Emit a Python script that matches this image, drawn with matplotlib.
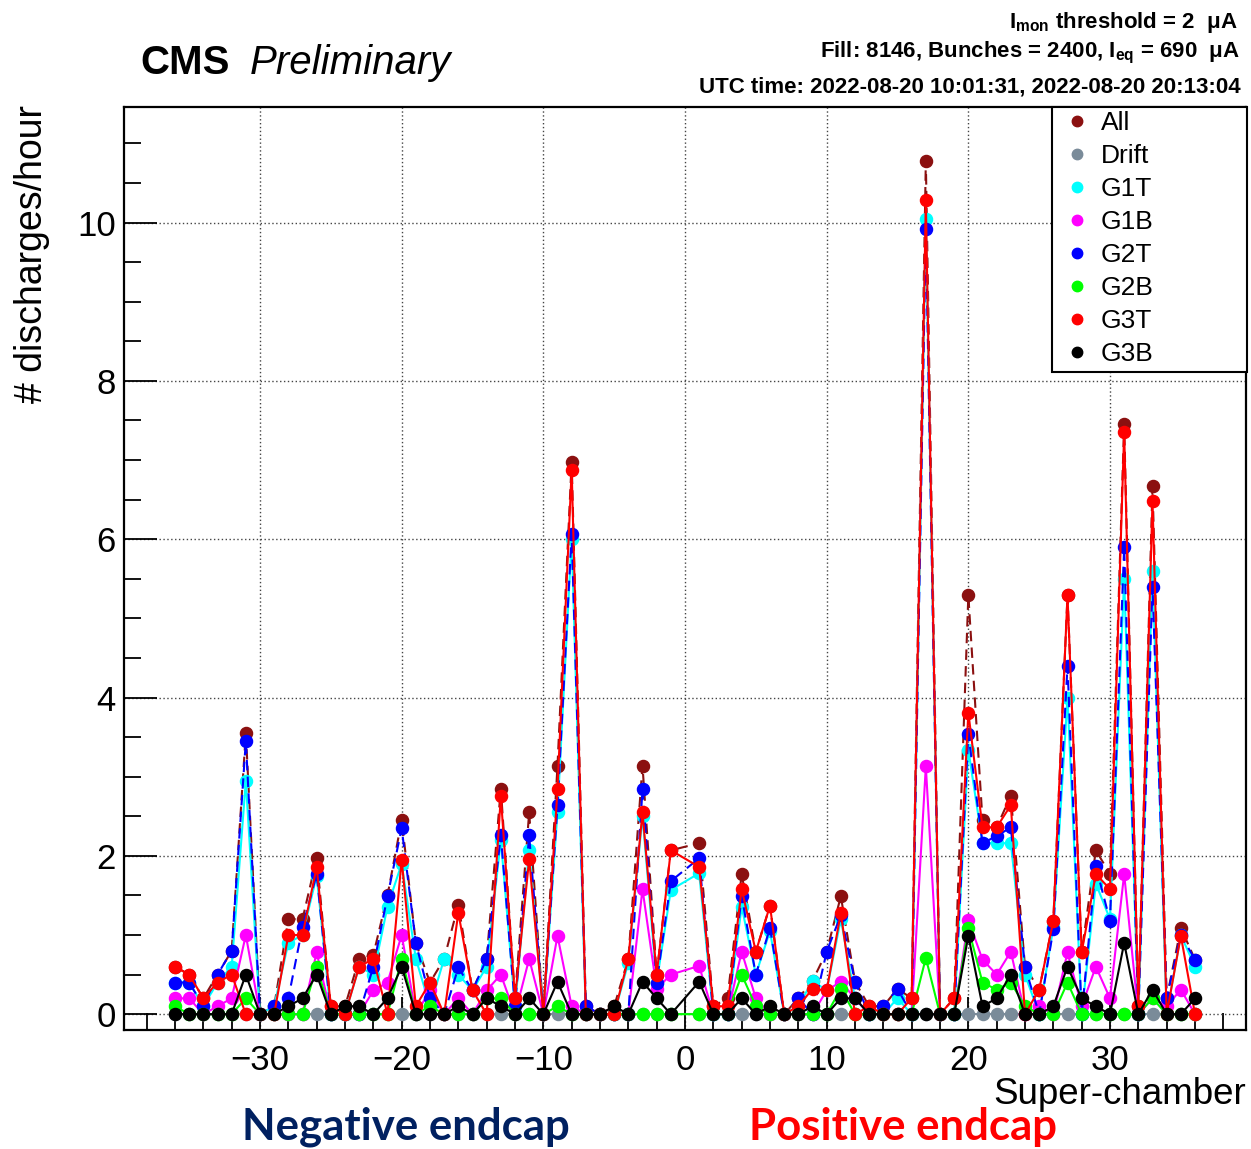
import matplotlib
matplotlib.use("Agg")
import matplotlib.pyplot as plt
from matplotlib.ticker import MultipleLocator
from matplotlib.lines import Line2D
from matplotlib.patches import Rectangle

plt.rcParams['font.family'] = ['Liberation Sans', 'DejaVu Sans']
plt.rcParams['mathtext.fontset'] = 'custom'
plt.rcParams['mathtext.rm'] = 'Liberation Sans:bold'
plt.rcParams['mathtext.it'] = 'Liberation Sans:bold'
plt.rcParams['mathtext.bf'] = 'Liberation Sans:bold'

# super-chamber numbers (no chamber 0)
chambers = list(range(-36, 0)) + list(range(1, 37))

# discharges/hour, negative endcap -36..-1 then positive endcap 1..36
all_rate = [0.6, 0.5, 0.2, 0.5, 0.8, 3.55, 0, 0.1, 1.2, 1.2, 1.97, 0.1, 0.1, 0.7, 0.75, 1.5, 2.45, 0.9,
            0.4, 0.7, 1.38, 0.3, 0.7, 2.85, 0.2, 2.55, 0, 3.14, 6.98, 0.1, 0, 0.1, 0.7, 3.14, 0.5, 2.07,
            2.16, 0.1, 0.2, 1.77, 0.79, 1.37, 0, 0.2, 0.42, 0.79, 1.49, 0.41, 0.1, 0.1, 0.32, 0.2, 10.78, 0,
            0.2, 5.29, 2.45, 2.36, 2.76, 0.6, 0.31, 1.18, 5.29, 0.78, 2.07, 1.77, 7.45, 0.1, 6.67, 0.2, 1.09, 0.69]
drift = [0] * 72
g1t = [0.4, 0.4, 0.1, 0.4, 0.6, 2.95, 0, 0.1, 0.9, 1.0, 1.75, 0, 0, 0.6, 0.5, 1.36, 1.9, 0.7,
       0.1, 0.7, 0.5, 0.3, 0.6, 2.2, 0.1, 2.08, 0, 2.56, 6.0, 0, 0, 0, 0.65, 2.5, 0.4, 1.57,
       1.78, 0, 0, 1.36, 0.5, 1.05, 0, 0.1, 0.42, 0.3, 1.2, 0.2, 0, 0, 0.2, 0, 10.05, 0,
       0, 3.34, 2.16, 2.16, 2.16, 0.5, 0, 1.1, 4.0, 0, 1.65, 1.2, 5.5, 0, 5.6, 0, 1.0, 0.6]
g1b = [0.2, 0.2, 0, 0.1, 0.2, 1.0, 0, 0, 0, 0, 0.78, 0, 0, 0, 0.3, 0.4, 1.0, 0,
       0.3, 0, 0.2, 0, 0.3, 0.5, 0, 0.7, 0, 0.99, 0.1, 0, 0, 0, 0, 1.58, 0.32, 0.5,
       0.61, 0, 0, 0.79, 0.2, 0, 0, 0, 0, 0.3, 0.41, 0.2, 0, 0, 0, 0, 3.13, 0,
       0, 1.19, 0.69, 0.5, 0.79, 0, 0.1, 0, 0.78, 0.1, 0.6, 0.2, 1.77, 0, 0.2, 0.1, 0.31, 0]
g2t = [0.4, 0.4, 0.1, 0.5, 0.8, 3.45, 0, 0.1, 0.2, 1.1, 1.77, 0, 0, 0, 0.6, 1.49, 2.35, 0.9,
       0.2, 0, 0.59, 0.3, 0.7, 2.26, 0.1, 2.26, 0, 2.64, 6.07, 0.1, 0, 0, 0, 2.84, 0.4, 1.68,
       1.97, 0, 0, 1.49, 0.5, 1.09, 0, 0.2, 0, 0.79, 1.25, 0.41, 0, 0.1, 0.32, 0, 9.92, 0,
       0, 3.54, 2.16, 2.25, 2.36, 0.6, 0, 1.07, 4.4, 0, 1.87, 1.18, 5.9, 0, 5.4, 0.2, 1.0, 0.69]
g2b = [0.1, 0, 0, 0, 0, 0.2, 0, 0, 0, 0, 0.6, 0, 0, 0, 0, 0, 0.7, 0,
       0.1, 0, 0, 0, 0.2, 0.2, 0, 0, 0, 0.1, 0, 0, 0, 0, 0, 0, 0, 0,
       0, 0, 0, 0.5, 0.1, 0, 0, 0, 0, 0, 0.32, 0, 0, 0, 0, 0, 0.71, 0,
       0, 1.09, 0.4, 0.31, 0.4, 0.1, 0, 0, 0.4, 0, 0, 0, 0, 0, 0.2, 0, 0, 0]
g3t = [0.6, 0.5, 0.2, 0.4, 0.5, 0, 0, 0, 1.0, 1.0, 1.86, 0.1, 0, 0.6, 0.7, 0, 1.95, 0.1,
       0.4, 0, 1.28, 0.3, 0, 2.75, 0.2, 1.96, 0, 2.84, 6.88, 0, 0, 0, 0.7, 2.55, 0.5, 2.07,
       1.86, 0.1, 0.1, 1.58, 0.79, 1.37, 0, 0.1, 0.32, 0.3, 1.28, 0, 0.1, 0, 0, 0.2, 10.28, 0,
       0.2, 3.81, 2.36, 2.36, 2.64, 0, 0.31, 1.18, 5.29, 0.78, 1.77, 1.58, 7.35, 0.1, 6.48, 0, 0.99, 0]
g3b = [0, 0, 0, 0, 0, 0.5, 0, 0, 0.1, 0.2, 0.5, 0, 0.1, 0.1, 0, 0.2, 0.6, 0,
       0, 0, 0.1, 0, 0.2, 0.1, 0, 0.2, 0, 0.41, 0, 0, 0, 0.1, 0, 0.41, 0.2, 0,
       0.41, 0, 0, 0.2, 0, 0.1, 0, 0, 0.1, 0, 0.2, 0.2, 0, 0, 0, 0, 0, 0,
       0, 0.99, 0.1, 0.2, 0.5, 0, 0, 0.1, 0.6, 0.2, 0.1, 0, 0.9, 0, 0.31, 0, 0, 0.2]

series = [
    ('All', all_rate, '#8b1010', (0, (5, 3))),
    ('Drift', drift, '#7a8b99', '-'),
    ('G1T', g1t, '#00ffff', '-'),
    ('G1B', g1b, '#ff00ff', '-'),
    ('G2T', g2t, '#0000ff', (0, (5, 3))),
    ('G2B', g2b, '#00ff00', '-'),
    ('G3T', g3t, '#ff0000', '-'),
    ('G3B', g3b, '#000000', '-'),
]

W, H = 1251, 1149
fig = plt.figure(figsize=(W / 100, H / 100), dpi=100)
ax = fig.add_axes([124 / W, 1 - 1030 / H, (1246 - 124) / W, (1030 - 107) / H])

for name, vals, col, ls in series:
    ax.plot(chambers, vals, color=col, ls=ls, lw=1.5, marker='o', ms=8.7,
            mec=col, mfc=col, label=name)

ax.set_xlim(-39.6, 39.6)
ax.set_ylim(-0.2, 11.46)
ax.xaxis.set_major_locator(MultipleLocator(10))
ax.xaxis.set_minor_locator(MultipleLocator(2))
ax.yaxis.set_major_locator(MultipleLocator(2))
ax.yaxis.set_minor_locator(MultipleLocator(0.5))
ax.tick_params(which='both', direction='in', top=False, right=False, labelsize=25, width=1.3)
ax.tick_params(which='major', length=24, pad=10)
ax.tick_params(which='minor', length=12)
ax.tick_params(axis='y', pad=6)
ax.grid(which='major', color='#444444', ls=(0, (1, 1.8)), lw=1.0)
for sp in ax.spines.values():
    sp.set_linewidth(1.6)

# axis titles
fig.text(1246 / W, 1 - 1104 / H, 'Super-chamber', ha='right', va='baseline', fontsize=26.5)
fig.text(14 / W, 1 - 105 / H, '# discharges/hour', ha='left', va='top', rotation=90, fontsize=27)

# CMS label
fig.text(140 / W, 1 - 74 / H, 'CMS', ha='left', va='baseline', fontsize=29, fontweight='bold')
fig.text(250 / W, 1 - 74 / H, 'Preliminary', ha='left', va='baseline', fontsize=29, style='italic')

# run info
fig.text(1238 / W, 1 - 28 / H, r'$\mathrm{I}_{\mathrm{mon}}$ threshold = 2  μA', ha='right', va='baseline',
         fontsize=16, fontweight='bold')
fig.text(1240 / W, 1 - 57 / H, r'Fill: 8146, Bunches = 2400, $\mathrm{I}_{\mathrm{eq}}$ = 690  μA', ha='right',
         va='baseline', fontsize=16, fontweight='bold')
fig.text(1241 / W, 1 - 92 / H, 'UTC time: 2022-08-20 10:01:31, 2022-08-20 20:13:04', ha='right',
         va='baseline', fontsize=16, fontweight='bold')

# legend
fig.patches.append(Rectangle((1052 / W, 1 - 372 / H), (1247 - 1052) / W, (372 - 107) / H,
                             transform=fig.transFigure, fill=True, facecolor='white',
                             edgecolor='black', lw=1.5, zorder=5))
handles = [Line2D([], [], ls='none', marker='o', ms=7.5, mfc=c, mec=c) for _, _, c, _ in series]
leg = fig.legend(handles, [s[0] for s in series], loc='upper left',
                 bbox_to_anchor=(1064 / W, 1 - 111 / H), frameon=False, fontsize=19,
                 handlelength=1.0, handletextpad=0.4, labelspacing=0.34, borderpad=0, borderaxespad=0)
leg.set_zorder(6)

# endcap labels
fig.text(406 / W, 1 - 1127 / H, 'Negative endcap', ha='center', va='center', fontsize=31.5,
         fontweight='bold', family='Lato', color='#002060')
fig.text(903 / W, 1 - 1127 / H, 'Positive endcap', ha='center', va='center', fontsize=31.5,
         fontweight='bold', family='Lato', color='#ff0000')

fig.savefig('out.png', dpi=100)
